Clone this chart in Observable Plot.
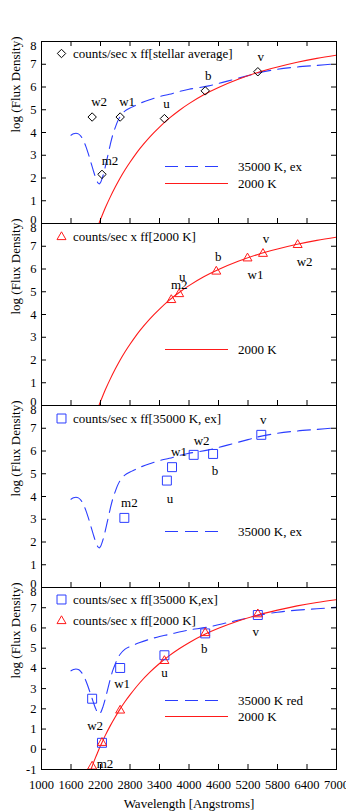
<!DOCTYPE html>
<html>
<head>
<meta charset="utf-8">
<script src="https://cdn.jsdelivr.net/npm/d3@7"></script>
<script src="https://cdn.jsdelivr.net/npm/@observablehq/plot@0.6"></script>
<style>
  html, body { margin: 0; padding: 0; background: #fff; overflow: hidden; }
  #chart { position: relative; width: 346px; height: 811px; overflow: hidden; background: #fff; }
  #chart svg { position: absolute; left: 0; top: 0; }
</style>
</head>
<body>
<div id="chart"></div>
<script>
// ---------------- data ----------------
// model curve: 35000 K, with extinction (blue dashed)
const blueWave = [1600,1650,1700,1750,1800,1850,1900,1950,2000,2050,2100,2150,2175,2200,2250,2300,2350,2400,2450,2500,2550,2600,2700,2800,2900,3000,3200,3400,3600,3800,4000,4400,4800,5200,5400,5800,6200,6600,7000];
const blueFlux = [3.88,3.94,3.97,3.94,3.84,3.66,3.40,3.08,2.72,2.36,2.02,1.78,1.74,1.80,2.10,2.52,3.00,3.48,3.90,4.22,4.50,4.70,4.95,5.08,5.18,5.28,5.44,5.58,5.68,5.80,5.90,6.05,6.27,6.50,6.62,6.78,6.88,6.95,7.02];
// model curve: 2000 K (red solid)
const redWave = [1950,2000,2050,2100,2150,2200,2250,2300,2400,2500,2600,2700,2800,3000,3200,3400,3600,3800,4000,4300,4600,5000,5400,5800,6200,6600,7000];
const redFlux = [-1.38,-1.04,-0.71,-0.40,-0.11,0.18,0.44,0.70,1.17,1.60,2.00,2.36,2.69,3.29,3.80,4.24,4.63,4.97,5.27,5.66,5.98,6.34,6.64,6.88,7.09,7.26,7.40];

const filterNames = ["w2","m2","w1","u","b","v"];
// panel 1: counts/sec x ff[stellar average]
const avgWave = [2030,2230,2600,3500,4330,5400];
const avgFlux = [4.68,2.16,4.68,4.61,5.83,6.67];
// panel 2: counts/sec x ff[2000 K]
const coolWave = [6210,3640,5190,3800,4555,5505];
const coolFlux = [7.06,4.64,6.47,4.90,5.89,6.67];
// panel 3: counts/sec x ff[35000 K, ex]
const hotWave = [4095,2685,3655,3550,4490,5470];
const hotFlux = [5.83,3.06,5.29,4.70,5.87,6.71];
// panel 4: both factors at the filter wavelengths
const bothWave = [2030,2230,2600,3500,4330,5400];
const bothHotFlux = [2.50,0.32,4.02,4.65,5.73,6.64];
const bothCoolFlux = [-0.85,0.32,1.92,4.37,5.75,6.68];

const xTickValues = [1000,1600,2200,2800,3400,4000,4600,5200,5800,6400,7000];

// ---------------- layout / style ----------------
const W = 346, H = 811, ML = 41, MR = 10;
const FONT = '"Liberation Serif","Times New Roman",Times,serif';
const BLUE = "#2b3dff", RED = "#ff1a1a";
const DASH = "13,7";

const blueCurve = blueWave.map((w, i) => ({w, f: blueFlux[i]}));
const redCurve = redWave.map((w, i) => ({w, f: redFlux[i]}));
const rows = (wave, flux) => filterNames.map((n, i) => ({n, w: wave[i], f: flux[i]}));

const SYM = {
  diamond: {name: "diamond2", r: 3.8, d3: d3.symbolDiamond2},
  square: {name: "square2", r: 5.7, d3: d3.symbolSquare2},
  triangle: {name: "triangle2", r: 4.3, d3: d3.symbolTriangle2}
};

const panels = [
  {
    top: 41, bottom: 223, ymin: 0, ymax: 8, blue: true, red: true, topTicks: true,
    series: [{data: rows(avgWave, avgFlux), sym: "diamond", color: "black",
      nudge: {w2:[7,-15], m2:[8,-14], w1:[7,-15], u:[2,-15], b:[3,-15], v:[3,-15]}}],
    legendMarks: [{sym: "diamond", color: "black", x: 61.5, y: 53.5, tx: 73, text: "counts/sec x ff[stellar average]"}],
    legendLines: [
      {color: BLUE, dash: DASH, x1: 165, x2: 222, y: 166.5, tx: 238, text: "35000 K, ex"},
      {color: RED, x1: 165, x2: 228, y: 183.5, tx: 238, text: "2000 K"}
    ]
  },
  {
    top: 223, bottom: 405, ymin: 0, ymax: 8, blue: false, red: true,
    series: [{data: rows(coolWave, coolFlux), sym: "triangle", color: RED,
      nudge: {w2:[7,17], m2:[8,-15], w1:[8,17], u:[3,-17], b:[2,-15], v:[3,-15]}}],
    legendMarks: [{sym: "triangle", color: RED, x: 61.5, y: 237, tx: 73, text: "counts/sec x ff[2000 K]"}],
    legendLines: [{color: RED, x1: 165, x2: 228, y: 349.5, tx: 238, text: "2000 K"}]
  },
  {
    top: 405, bottom: 587, ymin: 0, ymax: 8, blue: true, red: false,
    series: [{data: rows(hotWave, hotFlux), sym: "square", color: BLUE,
      nudge: {w2:[8,-14], m2:[5,-15], w1:[7,-15], u:[3,18], b:[2,17], v:[2,-15]}}],
    legendMarks: [{sym: "square", color: BLUE, x: 61.5, y: 418.5, tx: 73, text: "counts/sec x ff[35000 K, ex]"}],
    legendLines: [{color: BLUE, dash: DASH, x1: 165, x2: 222, y: 531.5, tx: 238, text: "35000 K, ex"}]
  },
  {
    top: 587, bottom: 769, ymin: -1, ymax: 8, blue: true, red: true, xAxis: true,
    series: [
      {data: rows(bothWave, bothHotFlux), sym: "square", color: BLUE,
        nudge: {w2:[3,27], m2:[3,21], w1:[2,16], u:[0,18], b:[-1,15], v:[-2,17]}},
      {data: rows(bothWave, bothCoolFlux), sym: "triangle", color: RED, nudge: null}
    ],
    legendMarks: [
      {sym: "square", color: BLUE, x: 61.5, y: 599.5, tx: 73, text: "counts/sec x ff[35000 K,ex]"},
      {sym: "triangle", color: RED, x: 61.5, y: 621, tx: 73, text: "counts/sec x ff[2000 K]"}
    ],
    legendLines: [
      {color: BLUE, dash: DASH, x1: 165, x2: 222, y: 700.5, tx: 238, text: "35000 K red"},
      {color: RED, x1: 165, x2: 228, y: 716.5, tx: 238, text: "2000 K"}
    ]
  }
];

const chart = document.getElementById("chart");

for (const cfg of panels) {
  const plotW = W - ML - MR;
  const plotH = cfg.bottom - cfg.top;
  const yTicks = d3.range(cfg.ymin, cfg.ymax + 1);
  const marks = [];

  if (cfg.blue) marks.push(Plot.line(blueCurve, {x: "w", y: "f", stroke: BLUE, strokeWidth: 1.1, strokeDasharray: DASH, curve: "catmull-rom", clip: true}));
  if (cfg.red) marks.push(Plot.line(redCurve, {x: "w", y: "f", stroke: RED, strokeWidth: 1.1, curve: "catmull-rom", clip: true}));

  for (const s of cfg.series) {
    const sy = SYM[s.sym];
    marks.push(Plot.dot(s.data, {x: "w", y: "f", symbol: sy.name, r: sy.r, stroke: s.color, fill: "none", strokeWidth: 1}));
  }
  for (const s of cfg.series) {
    if (!s.nudge) continue;
    for (const row of s.data) {
      const [dx, dy] = s.nudge[row.n];
      marks.push(Plot.text([row], {x: "w", y: "f", text: "n", dx, dy, fontSize: 13, fill: "black"}));
    }
  }

  // frame & inward ticks
  marks.push(Plot.frame({stroke: "black", strokeWidth: 1}));
  marks.push(Plot.tickY(yTicks, {y: d => d, insetRight: plotW - 5, stroke: "black"}));
  marks.push(Plot.tickY(yTicks, {y: d => d, insetLeft: plotW - 5, stroke: "black"}));
  marks.push(Plot.tickX(xTickValues, {x: d => d, insetTop: plotH - 5, stroke: "black"}));
  if (cfg.topTicks) marks.push(Plot.tickX(xTickValues, {x: d => d, insetBottom: plotH - 5, stroke: "black"}));

  // y tick labels
  const topT = [cfg.ymax];
  const botT = cfg.ymin === 0 ? [cfg.ymin] : [];
  const midT = yTicks.filter(t => t !== cfg.ymax && !(cfg.ymin === 0 && t === 0));
  const yl = {y: d => d, text: d => String(d), frameAnchor: "left", textAnchor: "end", dx: -5, fontSize: 12.5, fill: "black"};
  marks.push(Plot.text(topT, {...yl, lineAnchor: "top"}));
  marks.push(Plot.text(midT, {...yl, lineAnchor: "middle"}));
  if (botT.length) marks.push(Plot.text(botT, {...yl, lineAnchor: "bottom"}));

  // y axis title
  marks.push(Plot.text(["log (Flux Density)"], {frameAnchor: "left", rotate: -90, dx: -26, fontSize: 13, fill: "black"}));

  if (cfg.xAxis) {
    marks.push(Plot.text(xTickValues, {x: d => d, text: d => String(d), frameAnchor: "bottom", lineAnchor: "top", dy: 11, fontSize: 12.5, fill: "black"}));
    marks.push(Plot.text(["Wavelength [Angstroms]"], {frameAnchor: "bottom", lineAnchor: "bottom", dy: 38, fontSize: 13, fill: "black"}));
  }

  const svg = Plot.plot({
    width: W, height: H,
    marginLeft: ML, marginRight: MR, marginTop: cfg.top, marginBottom: H - cfg.bottom,
    x: {domain: [1000, 7000], axis: null},
    y: {domain: [cfg.ymin, cfg.ymax], axis: null},
    style: {background: "transparent", overflow: "visible", fontFamily: FONT, fontSize: "13px", color: "black"},
    marks
  });

  // legend (not data): symbols, line samples and their texts
  const g = d3.select(svg).append("g")
    .attr("font-family", FONT).attr("font-size", 13).attr("fill", "black").attr("text-anchor", "start");
  for (const it of cfg.legendMarks) {
    const sy = SYM[it.sym];
    g.append("path")
      .attr("transform", `translate(${it.x},${it.y})`)
      .attr("d", d3.symbol(sy.d3, Math.PI * sy.r * sy.r)())
      .attr("fill", "none").attr("stroke", it.color).attr("stroke-width", 1);
    g.append("text").attr("x", it.tx).attr("y", it.y).attr("dy", "0.32em").attr("text-anchor", "start").text(it.text);
  }
  for (const it of cfg.legendLines) {
    g.append("line").attr("x1", it.x1).attr("x2", it.x2).attr("y1", it.y).attr("y2", it.y)
      .attr("stroke", it.color).attr("stroke-width", 1.1)
      .attr("stroke-dasharray", it.dash || null);
    g.append("text").attr("x", it.tx).attr("y", it.y).attr("dy", "0.32em").attr("text-anchor", "start").text(it.text);
  }

  chart.appendChild(svg);
}
</script>
</body>
</html>
